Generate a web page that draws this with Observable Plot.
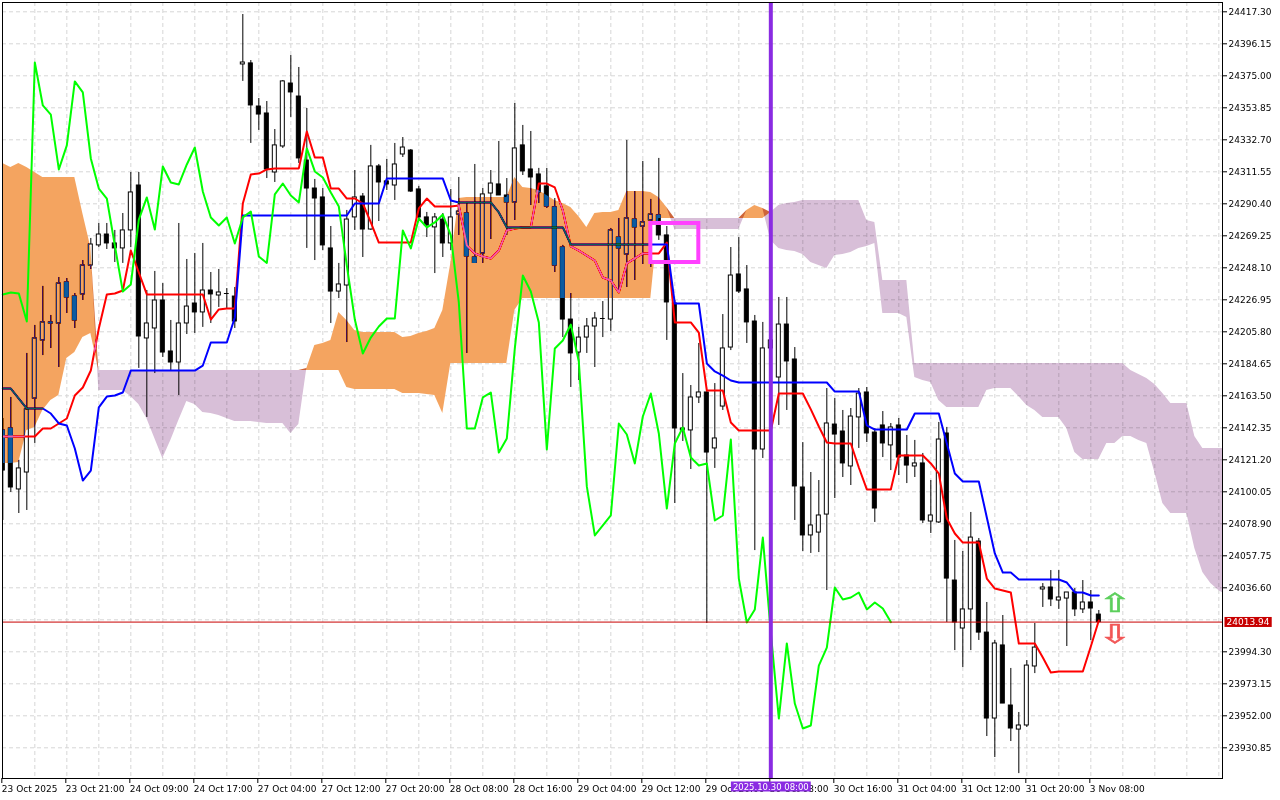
<!DOCTYPE html>
<html><head><meta charset="utf-8">
<script src="https://cdn.jsdelivr.net/npm/d3@7"></script>
<script src="https://cdn.jsdelivr.net/npm/@observablehq/plot@0.6"></script>
<style>
html,body{margin:0;padding:0;background:#fff;}
#chart{width:1280px;height:800px;overflow:hidden;}
</style></head><body><div id="chart"></div>
<script>
// ---- H1 candles (index 0 = first visible bar) ----
const opens = [24140.6,24141.9,24101.6,24112.8,24161.7,24200.1,24211.3,24211.3,24238.4,24229.1,
 24230.5,24249.6,24262.9,24270.1,24264.2,24260.9,24272.8,24302.5,24201.4,24208.0,
 24226.5,24192.8,24185.5,24211.3,24224.5,24218.6,24233.1,24229.8,24231.1,24229.1,
 24382.5,24383.2,24354.7,24350.1,24311.1,24328.3,24369.9,24361.3,24319.0,24300.5,
 24294.6,24260.9,24232.4,24236.4,24281.4,24295.2,24273.4,24315.1,24305.2,24302.5,
 24323.0,24325.6,24299.9,24281.4,24274.8,24280.0,24264.2,24283.3,24284.0,24254.9,
 24257.6,24297.2,24303.2,24295.9,24291.3,24329.0,24313.1,24309.8,24301.9,24288.0,
 24261.5,24213.9,24192.1,24202.0,24209.3,24214.6,24213.9,24268.1,24256.9,24280.0,
 24275.4,24279.4,24282.7,24269.5,24224.5,24140.6,24140.6,24162.4,24165.7,24128.7,
 24156.4,24195.4,24243.7,24233.8,24212.6,24128.0,24194.8,24175.6,24210.6,24187.5,
 24102.9,24071.2,24073.1,24085.0,24144.5,24139.9,24116.8,24149.2,24165.7,24139.2,
 24143.9,24130.7,24143.9,24124.0,24116.8,24118.8,24080.4,24079.8,24138.6,24041.4,
 24009.7,24022.3,24067.2,24007.0,23950.2,23998.5,23958.8,23942.9,23945.6,23984.6,
 24035.5,24036.8,24028.2,24029.5,24033.5,24022.3,24026.9,24018.9];
const highs = [24148.5,24162.4,24120.7,24191.5,24210.0,24235.8,24216.6,24241.7,24241.0,24231.1,
 24252.9,24267.5,24277.4,24277.4,24272.8,24284.0,24311.1,24311.1,24233.1,24245.7,
 24237.7,24213.3,24277.4,24253.6,24257.6,24264.2,24245.0,24247.0,24234.4,24235.1,
 24415.5,24385.1,24360.0,24358.0,24339.5,24371.9,24388.4,24380.5,24353.4,24306.5,
 24300.5,24275.4,24251.0,24286.0,24312.4,24297.2,24329.0,24316.4,24319.7,24330.3,
 24334.2,24326.3,24301.9,24284.7,24284.0,24284.0,24299.9,24307.8,24291.3,24316.4,
 24300.5,24312.4,24331.6,24307.1,24356.7,24342.2,24338.2,24313.8,24313.8,24293.9,
 24262.9,24231.1,24208.7,24214.6,24218.6,24225.8,24274.1,24280.7,24332.3,24298.5,
 24318.4,24293.3,24320.4,24275.4,24226.5,24178.2,24170.3,24198.1,24167.0,24171.6,
 24217.2,24261.5,24268.1,24249.6,24216.6,24212.0,24206.7,24228.5,24228.5,24195.4,
 24132.6,24112.8,24107.5,24168.3,24161.7,24153.8,24155.1,24168.3,24169.0,24141.9,
 24153.1,24145.2,24148.5,24137.3,24134.0,24125.4,24107.5,24145.9,24142.6,24067.9,
 24060.6,24086.4,24069.2,24026.9,24001.8,24018.3,23983.3,23954.2,23988.5,24013.0,
 24039.4,24048.0,24048.0,24033.5,24036.1,24041.4,24034.8,24021.6];
const lows = [24081.1,24099.6,24085.7,24087.7,24132.0,24190.1,24194.8,24182.2,24217.9,24208.0,
 24226.5,24247.0,24261.5,24260.2,24251.6,24251.0,24261.5,24181.6,24149.2,24178.2,
 24188.8,24180.2,24163.7,24204.0,24204.7,24208.7,24211.3,24221.9,24221.2,24208.0,
 24371.3,24330.3,24338.9,24307.1,24304.5,24327.0,24347.5,24317.1,24260.9,24252.9,
 24259.5,24211.3,24227.8,24198.7,24272.8,24254.9,24272.8,24278.7,24299.2,24292.6,
 24321.0,24297.9,24280.0,24268.1,24244.3,24254.9,24259.5,24269.5,24191.5,24251.0,
 24251.0,24266.8,24295.9,24269.5,24279.4,24309.1,24289.3,24290.6,24287.3,24245.0,
 24202.0,24169.0,24173.6,24191.5,24182.2,24202.0,24206.0,24231.1,24235.1,24239.7,
 24250.3,24248.3,24266.2,24200.1,24092.3,24133.3,24114.8,24158.4,24013.0,24115.5,
 24153.8,24193.4,24231.1,24198.1,24061.2,24122.1,24173.6,24143.9,24153.8,24081.1,
 24060.6,24059.3,24059.9,24034.8,24095.6,24109.5,24104.2,24128.7,24132.6,24079.8,
 24122.7,24114.1,24110.8,24105.5,24109.5,24079.1,24072.5,24079.1,24013.7,23995.1,
 23983.9,23995.1,24001.8,23938.3,23924.4,23960.1,23935.0,23913.8,23944.3,23979.9,
 24023.6,24024.2,24022.3,23997.8,24017.6,24019.6,24001.8,24013.9];
const closes = [24114.1,24102.9,24115.5,24154.5,24201.4,24212.0,24212.0,24237.7,24228.5,24213.3,
 24249.6,24263.5,24270.1,24264.2,24260.9,24272.8,24297.9,24202.7,24211.3,24226.5,
 24192.1,24185.5,24211.3,24222.5,24218.6,24233.1,24230.5,24231.8,24231.1,24212.6,
 24383.8,24355.4,24349.4,24313.1,24329.0,24371.3,24364.0,24320.4,24300.5,24293.9,
 24262.9,24232.4,24237.1,24280.0,24294.6,24273.4,24315.1,24304.5,24303.2,24316.4,
 24327.6,24298.5,24281.4,24276.1,24281.4,24264.2,24281.4,24285.3,24255.6,24251.3,
 24296.6,24303.8,24295.9,24291.3,24327.0,24311.8,24307.8,24297.9,24288.6,24249.6,
 24213.9,24191.5,24202.0,24209.3,24214.6,24214.6,24272.8,24260.9,24280.7,24274.8,
 24278.1,24283.3,24269.5,24225.2,24141.9,24141.9,24162.4,24165.7,24126.0,24135.3,
 24194.8,24243.0,24232.4,24212.0,24128.0,24194.8,24200.1,24210.6,24186.2,24103.6,
 24071.2,24077.8,24084.4,24145.2,24137.9,24118.8,24149.8,24165.0,24138.6,24089.0,
 24132.0,24142.6,24122.7,24117.4,24118.8,24081.1,24084.4,24134.6,24042.7,24013.7,
 24022.3,24069.8,24007.0,23950.2,23999.8,23960.1,23943.6,23945.6,23985.2,23997.1,
 24036.8,24028.9,24030.2,24033.5,24022.3,24026.9,24022.9,24013.94];

// ---- Ichimoku lines ----
const tenkan = [24136.6,24136.6,24136.6,24136.6,24136.6,24141.9,24141.9,24145.2,24148.5,24163.7,
 24169.0,24180.2,24208.0,24230.5,24231.1,24233.1,24259.5,24245.0,24230.5,24230.5,
 24230.5,24230.5,24230.5,24230.5,24230.5,24230.5,24213.9,24220.6,24221.2,24221.2,
 24290.6,24309.8,24310.4,24313.1,24313.8,24313.8,24313.8,24313.8,24338.2,24321.0,
 24321.0,24300.5,24300.5,24293.9,24293.9,24290.6,24278.1,24264.8,24264.8,24264.8,
 24264.8,24264.8,24287.3,24293.9,24288.6,24288.6,24288.6,24289.3,24262.9,24257.6,
 24255.6,24254.3,24259.5,24272.8,24274.1,24274.8,24274.8,24303.8,24303.8,24301.2,
 24286.0,24262.2,24259.5,24256.2,24252.9,24241.7,24239.7,24231.8,24251.0,24254.3,
 24257.6,24257.6,24257.6,24264.8,24212.0,24212.0,24212.0,24205.3,24167.0,24167.0,
 24167.0,24145.9,24140.6,24140.6,24140.6,24140.6,24140.6,24165.0,24165.0,24165.0,
 24165.0,24154.5,24143.2,24132.6,24132.0,24132.0,24132.0,24116.1,24101.6,24101.6,
 24101.6,24101.6,24124.0,24124.0,24124.0,24124.0,24118.8,24112.1,24082.4,24072.5,
 24066.5,24066.5,24066.5,24042.7,24036.1,24034.8,24033.5,23999.8,23999.8,23999.8,
 23990.5,23980.6,23981.3,23981.3,23981.3,23981.3,23997.8,24015.0];
const kijun = [24168.3,24168.3,24161.7,24155.1,24155.1,24155.1,24151.8,24145.2,24143.9,24128.7,
 24107.5,24114.1,24155.8,24163.0,24163.7,24165.7,24180.2,24180.2,24180.2,24180.2,
 24180.2,24180.2,24180.2,24180.2,24180.2,24183.5,24198.7,24198.7,24198.7,24215.3,
 24282.7,24282.7,24282.7,24282.7,24282.7,24282.7,24282.7,24282.7,24282.7,24282.7,
 24282.7,24282.7,24282.7,24282.7,24290.6,24290.6,24290.6,24290.6,24307.1,24307.1,
 24307.1,24307.1,24307.1,24307.1,24307.1,24307.1,24292.6,24291.3,24291.3,24291.3,
 24291.3,24291.3,24284.7,24274.8,24274.8,24274.8,24274.8,24274.8,24274.8,24274.8,
 24274.8,24263.5,24263.5,24263.5,24263.5,24263.5,24263.5,24263.5,24263.5,24263.5,
 24263.5,24263.5,24263.5,24263.5,24224.5,24224.5,24224.5,24224.5,24184.9,24179.6,
 24176.9,24173.6,24172.3,24172.3,24172.3,24172.3,24172.3,24172.3,24172.3,24172.3,
 24172.3,24172.3,24172.3,24172.3,24166.3,24166.3,24166.3,24166.3,24143.9,24141.2,
 24141.2,24141.2,24141.2,24141.2,24151.8,24151.8,24151.8,24151.8,24132.0,24112.1,
 24106.9,24106.9,24106.9,24083.1,24059.3,24046.7,24046.7,24042.1,24042.1,24042.1,
 24042.1,24042.1,24042.1,24040.1,24033.5,24033.5,24031.5,24031.5];
const chikouShift = 26; // Chikou span = close plotted 26 bars back
const spanA = [24317.1,24314.4,24317.1,24314.4,24311.1,24307.8,24307.8,24307.8,24307.8,24307.8,
 24284.0,24261.5,24167.0,24167.0,24167.0,24167.0,24163.0,24157.8,24148.5,24135.3,
 24122.1,24134.0,24147.2,24159.7,24157.8,24152.5,24151.8,24150.5,24148.5,24146.5,
 24146.5,24146.5,24145.9,24145.2,24145.2,24145.2,24138.6,24144.5,24181.6,24196.8,
 24198.1,24200.1,24218.6,24213.3,24206.7,24205.3,24205.3,24205.3,24205.3,24205.3,
 24202.0,24202.7,24204.7,24206.0,24208.0,24219.9,24251.0,24293.9,24294.6,24294.6,
 24294.6,24294.6,24294.6,24294.6,24307.8,24301.2,24300.5,24299.2,24295.9,24292.6,
 24290.6,24288.0,24282.0,24274.8,24284.0,24284.7,24284.7,24286.0,24298.5,24298.5,
 24298.5,24297.9,24294.6,24288.0,24273.4,24273.4,24273.4,24273.4,24273.4,24273.4,
 24273.4,24273.4,24273.4,24286.0,24289.3,24287.3,24266.2,24260.9,24259.5,24258.9,
 24256.9,24251.6,24249.6,24247.7,24256.2,24256.9,24258.2,24260.9,24262.2,24264.2,
 24217.9,24217.9,24217.9,24215.3,24175.6,24173.6,24172.3,24160.4,24155.8,24155.8,
 24155.8,24155.8,24155.8,24167.0,24168.3,24168.3,24168.3,24163.0,24157.1,24153.8,
 24149.2,24149.2,24149.2,24141.9,24126.0,24121.4,24121.4,24121.4,24132.0,24132.0,
 24136.6,24136.6,24134.0,24132.0,24112.8,24092.3,24085.7,24085.7,24085.7,24062.6,
 24046.7,24039.4,24034.8,24031.5];
const spanB = [24118.8,24118.8,24119.4,24140.6,24142.6,24153.8,24160.4,24163.7,24188.2,24192.1,
 24202.0,24204.7,24180.2,24180.2,24180.2,24180.2,24180.2,24180.2,24180.2,24180.2,
 24180.2,24180.2,24180.2,24180.2,24180.2,24180.2,24180.2,24180.2,24180.2,24180.2,
 24180.2,24180.2,24180.2,24180.2,24180.2,24180.2,24180.2,24180.2,24180.2,24180.2,
 24180.2,24180.2,24180.2,24169.0,24167.7,24167.7,24167.7,24167.7,24167.7,24167.7,
 24165.0,24165.0,24165.0,24164.4,24163.7,24151.8,24184.9,24184.9,24184.9,24184.9,
 24184.9,24184.9,24184.9,24184.9,24219.9,24227.8,24227.8,24227.8,24227.8,24227.8,
 24227.8,24227.8,24227.8,24227.8,24227.8,24227.8,24227.8,24227.8,24227.8,24227.8,
 24227.8,24227.8,24280.7,24280.7,24280.7,24280.7,24280.7,24280.7,24280.7,24280.7,
 24280.7,24280.7,24280.7,24280.7,24280.7,24280.7,24284.7,24289.3,24290.6,24291.3,
 24292.6,24292.6,24292.6,24292.6,24292.6,24292.6,24292.6,24292.6,24279.4,24278.1,
 24239.7,24239.7,24239.7,24239.7,24184.9,24184.9,24184.9,24184.9,24184.9,24184.9,
 24184.9,24184.9,24184.9,24184.9,24184.9,24184.9,24184.9,24184.9,24184.9,24184.9,
 24184.9,24184.9,24184.9,24184.9,24184.9,24184.9,24184.9,24184.9,24184.9,24184.9,
 24184.9,24180.2,24177.6,24174.9,24171.0,24165.0,24158.4,24158.4,24158.4,24136.6,
 24128.7,24128.7,24128.7,24128.7];

// ---- axes / annotations ----
const priceTicks = [24417.30,24396.15,24375.00,24353.85,24332.70,24311.55,24290.40,24269.25,24248.10,
 24226.95,24205.80,24184.65,24163.50,24142.35,24121.20,24100.05,24078.90,24057.75,24036.60,24015.45,
 23994.30,23973.15,23952.00,23930.85];
const priceLabelTicks = priceTicks.filter(p => p !== 24015.45);
const timeTickIndex = [0,8,16,24,32,40,48,56,64,72,80,88,96,104,112,120,128,136];
const timeTickLabels = ["23 Oct 2025","23 Oct 21:00","24 Oct 09:00","24 Oct 17:00","27 Oct 04:00",
 "27 Oct 12:00","27 Oct 20:00","28 Oct 08:00","28 Oct 16:00","29 Oct 04:00","29 Oct 12:00",
 "29 Oct 20:00","30 Oct 08:00","30 Oct 16:00","31 Oct 04:00","31 Oct 12:00","31 Oct 20:00","3 Nov 08:00"];
const lastPrice = 24013.94;
const markerIndex = 96;
const markerLabel = "2025.10.30 08:00";
const boxZone = [{start: 81, end: 87, top: 24277.4, bottom: 24251.6}];
const signals = [{i: 139, price: 24025.6, dir: "up"}, {i: 139, price: 24005.1, dir: "down"}];

// ---- layout ----
const W = 1280, H = 800, mL = 2, mR = 58, mT = 2, mB = 22;

const bars = opens.map((o, i) => ({i, o, h: highs[i], l: lows[i], c: closes[i]}));
const bodies = bars.filter(d => Math.abs(d.c - d.o) >= 0.5);
const dojis = bars.filter(d => Math.abs(d.c - d.o) < 0.5);
const kumo = spanA.map((a, i) => ({i, a, b: spanB[i]}));
const chikou = closes.slice(chikouShift);
const gridIdx = d3.range(4, 153, 4);
const tickLabel = new Map(timeTickIndex.map((d, i) => [d, timeTickLabels[i]]));
const bullTop = d => Math.max(d.a, d.b);

const plot = Plot.plot({
  width: W, height: H,
  marginLeft: mL, marginRight: mR, marginTop: mT, marginBottom: mB,
  style: {fontFamily: "DejaVu Sans", fontSize: "9px", background: "white", color: "black"},
  x: {type: "linear", domain: [-0.04, 152.46]},
  y: {domain: [23910.56, 24423.45]},
  marks: [
    Plot.frame({fill: "white"}),
    Plot.ruleY(priceTicks, {stroke: "#d6d6d6", strokeDasharray: "4,3"}),
    Plot.ruleX(gridIdx, {stroke: "#d6d6d6", strokeDasharray: "4,3"}),
    Plot.areaY(kumo, {x: "i", y1: "b", y2: bullTop, fill: "white", ariaDescription: "kumo-bull-under"}),
    Plot.areaY(kumo, {x: "i", y1: "a", y2: bullTop, fill: "#d8bfd8", ariaDescription: "kumo-bear"}),
    Plot.ruleX(bars, {x: "i", y1: "l", y2: "h", stroke: "black", clip: true}),
    Plot.rect(bodies, {x1: d => d.i - 0.25, x2: d => d.i + 0.25, y1: "o", y2: "c",
      fill: d => d.c >= d.o ? "white" : "black", stroke: "black", strokeWidth: 1, clip: true}),
    Plot.ruleY(dojis, {y: "o", x1: d => d.i - 0.3, x2: d => d.i + 0.3, stroke: "black"}),
    Plot.lineY(tenkan, {x: (d, i) => i, y: d => d, stroke: "#ff0000", strokeWidth: 2}),
    Plot.lineY(kijun, {x: (d, i) => i, y: d => d, stroke: "#0000ff", strokeWidth: 2}),
    Plot.areaY(kumo, {x: "i", y1: "b", y2: bullTop, fill: "rgb(11,91,159)", ariaDescription: "kumo-bull"}),
    Plot.lineY(chikou, {x: (d, i) => i, y: d => d, stroke: "#00ff00", strokeWidth: 2}),
    Plot.ruleY([lastPrice], {stroke: "#c80000", strokeWidth: 1}),
    Plot.ruleX([markerIndex], {stroke: "#8a2be2", strokeWidth: 4}),
    Plot.rect(boxZone, {x1: "start", x2: "end", y1: "top", y2: "bottom", fill: "none", stroke: "#ff40ff", strokeWidth: 4}),
    Plot.text(signals, {x: "i", y: "price", text: d => d.dir === "up" ? "⇧" : "⇩",
      fill: d => d.dir === "up" ? "#5ccf5c" : "#f25555", stroke: d => d.dir === "up" ? "#5ccf5c" : "#f25555",
      strokeWidth: 0.5, fontSize: 26, lineHeight: 0.9, ariaDescription: "signal-arrows"}),
    Plot.axisY(priceLabelTicks, {anchor: "right", tickSize: 4, tickPadding: 2, tickFormat: d => d.toFixed(2), label: null}),
    Plot.axisX(timeTickIndex, {anchor: "bottom", tickSize: 5, tickPadding: 2, textAnchor: "start", dx: -1,
      tickFormat: d => tickLabel.get(d), label: null}),
    Plot.frame({stroke: "black"}),
    Plot.text([lastPrice], {y: d => d, text: d => d.toFixed(2), frameAnchor: "right", textAnchor: "start",
      dx: 4, fill: "white", ariaDescription: "last-price-tag"}),
    Plot.text([markerIndex], {x: d => d, text: () => markerLabel, frameAnchor: "bottom", dy: 11,
      fill: "white", fontSize: 8.5, ariaDescription: "marker-tag"})
  ]
});
document.getElementById("chart").appendChild(plot);

// ---- post-processing: blending, clipping and label boxes ----
const svg = d3.select(plot);
const sx = plot.scale("x"), sy = plot.scale("y");
const L = mL, R = W - mR, T = mT, B = H - mB;
const defs = svg.insert("defs", ":first-child");
defs.append("clipPath").attr("id", "plotClip").append("rect")
  .attr("x", L).attr("y", T).attr("width", R - L).attr("height", B - T);
const bz = boxZone[0];
const bx1 = sx.apply(bz.start), bx2 = sx.apply(bz.end), by1 = sy.apply(bz.top), by2 = sy.apply(bz.bottom);
defs.append("clipPath").attr("id", "kumoClip").append("path").attr("clip-rule", "evenodd")
  .attr("d", `M${L},${T}H${R}V${B}H${L}Z M${bx1},${by1}H${bx2}V${by2}H${bx1}Z`);
svg.select('g[aria-description="kumo-bull"]').attr("clip-path", "url(#kumoClip)").style("mix-blend-mode", "difference");
svg.select('g[aria-description="kumo-bull-under"]').attr("clip-path", "url(#plotClip)");
svg.select('g[aria-description="kumo-bear"]').attr("clip-path", "url(#plotClip)").style("mix-blend-mode", "multiply");

// widen the hollow signal arrows around their own centres
svg.selectAll('g[aria-description="signal-arrows"] text').each(function () {
  const b = this.getBBox();
  const cx = b.x + b.width / 2, cy = b.y + b.height / 2;
  const tr = this.getAttribute("transform") || "";
  this.setAttribute("transform", `${tr} translate(${cx},${cy}) scale(1.55,1) translate(${-cx},${-cy})`);
});

function boxBehind(label, fill, px, py) {
  svg.selectAll(`g[aria-description="${label}"] text`).each(function () {
    const b = this.getBBox();
    const t = this;
    const r = d3.select(this.parentNode).insert("rect", () => t)
      .attr("x", b.x - px).attr("y", b.y - py).attr("width", b.width + 2 * px).attr("height", b.height + 2 * py)
      .attr("fill", fill);
    const tr = this.getAttribute("transform");
    if (tr) r.attr("transform", tr);
  });
}
boxBehind("last-price-tag", "#c80000", 2, 0);
boxBehind("marker-tag", "#8a2be2", 2, 0);
</script>
</body></html>
